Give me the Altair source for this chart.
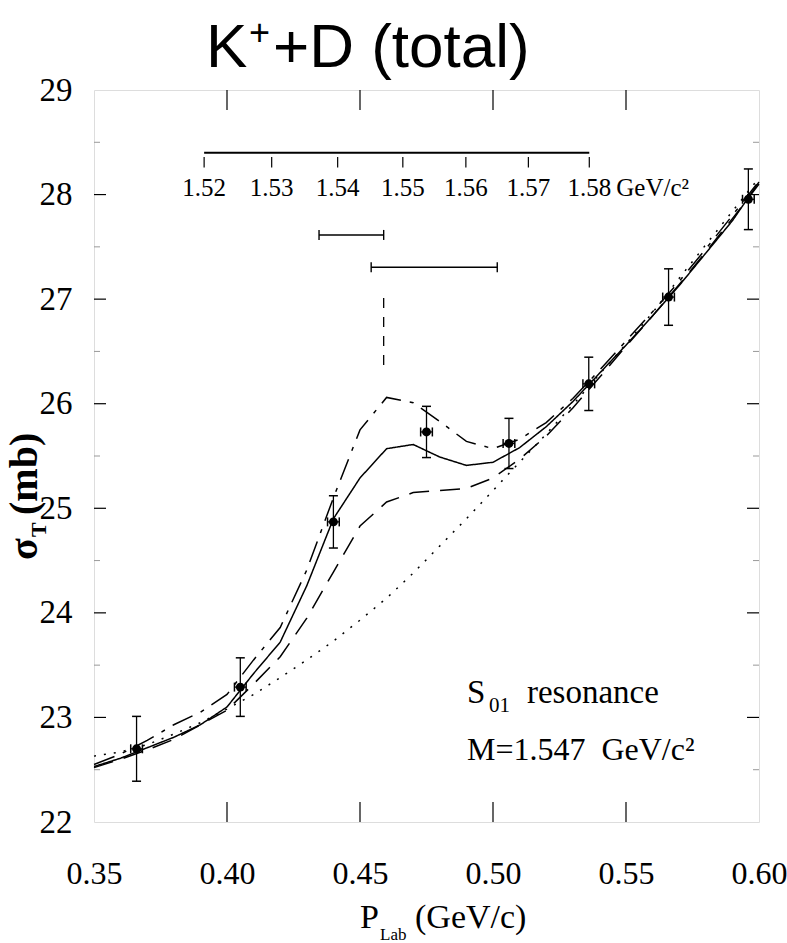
import altair as alt
import pandas as pd

W, H = 665, 732
SERIF = "Liberation Serif"
SANS = "Liberation Sans"

# ---------------- data ----------------
p_grid = [0.35, 0.36, 0.37, 0.38, 0.39, 0.40, 0.41, 0.42, 0.43, 0.44, 0.45, 0.46, 0.47,
          0.48, 0.49, 0.50, 0.51, 0.52, 0.53, 0.54, 0.55, 0.56, 0.57, 0.58, 0.59, 0.60]
sig_solid = [22.53, 22.61, 22.71, 22.81, 22.93, 23.10, 23.42, 23.72, 24.26, 24.90, 25.29, 25.57, 25.61,
             25.49, 25.41, 25.44, 25.58, 25.78, 26.02, 26.29, 26.56, 26.84, 27.13, 27.44, 27.75, 28.12]
sig_dashed = [22.52, 22.60, 22.69, 22.79, 22.93, 23.07, 23.32, 23.58, 23.95, 24.39, 24.83, 25.06, 25.15,
              25.17, 25.19, 25.29, 25.47, 25.69, 25.96, 26.25, 26.55, 26.84, 27.14, 27.45, 27.77, 28.10]
sig_dashdot = [22.55, 22.65, 22.78, 22.93, 23.05, 23.22, 23.55, 23.86, 24.41, 25.10, 25.75, 26.06, 26.01,
               25.83, 25.64, 25.57, 25.66, 25.82, 26.05, 26.32, 26.60, 26.88, 27.17, 27.48, 27.80, 28.13]
sig_dotted = [22.63, 22.67, 22.74, 22.84, 22.95, 23.08, 23.22, 23.38, 23.55, 23.73, 23.93, 24.14, 24.38,
              24.64, 24.90, 25.17, 25.44, 25.71, 25.99, 26.28, 26.57, 26.87, 27.20, 27.52, 27.84, 28.16]

data_p = [0.366, 0.405, 0.440, 0.475, 0.506, 0.536, 0.566, 0.596]
data_sigma = [22.70, 23.29, 24.87, 25.73, 25.62, 26.19, 27.02, 27.955]
data_err = [0.31, 0.28, 0.25, 0.245, 0.24, 0.255, 0.27, 0.29]
data_perr = [0.0022, 0.0022, 0.0022, 0.0022, 0.0022, 0.0022, 0.0022, 0.0022]

# invariant-mass scale (GeV/c^2) and the P_lab position of each of its ticks
mass_ticks = ["1.52", "1.53", "1.54", "1.55", "1.56", "1.57", "1.58"]
mass_tick_p = [0.3914, 0.4168, 0.4416, 0.4661, 0.4898, 0.5133, 0.5362]
mass_line_y = 28.40
mass_tick_y = [28.36, 28.26]
mass_label_y = 28.06

# mass-range bars (in P_lab) and their heights
range_p1 = [0.4346, 0.4542]
range_p2 = [0.4589, 0.5016]
range_y = [27.614, 27.305]

# resonance position marker
res_p = [0.4589]
res_y1 = [26.37]
res_y2 = [27.06]

x_ticks = [0.35, 0.40, 0.45, 0.50, 0.55, 0.60]
y_ticks = [22, 23, 24, 25, 26, 27, 28, 29]
y_minor = [22.5, 23.5, 24.5, 25.5, 26.5, 27.5, 28.5]

ann_p = 0.4902
ann_y1 = 23.14
ann_y2 = 22.595

# ---------------- tables ----------------
curve_names = ["solid", "dashed", "dashdot", "dotted"]
curves = pd.DataFrame({
    "p": p_grid * 4,
    "sigma": sig_solid + sig_dashed + sig_dashdot + sig_dotted,
    "curve": sum([[c] * len(p_grid) for c in curve_names], []),
})
pts = pd.DataFrame({
    "p": data_p,
    "s": data_sigma,
    "s_lo": [s - e for s, e in zip(data_sigma, data_err)],
    "s_hi": [s + e for s, e in zip(data_sigma, data_err)],
    "p_lo": [p - e for p, e in zip(data_p, data_perr)],
    "p_hi": [p + e for p, e in zip(data_p, data_perr)],
})
mass = pd.DataFrame({"p": mass_tick_p, "lab": mass_ticks,
                     "y1": [mass_tick_y[0]] * 7, "y2": [mass_tick_y[1]] * 7,
                     "ly": [mass_label_y] * 7})
mass_line = pd.DataFrame({"p1": [mass_tick_p[0]], "p2": [mass_tick_p[-1]], "y": [mass_line_y]})
ranges = pd.DataFrame({"p1": range_p1, "p2": range_p2, "y": range_y})
res = pd.DataFrame({"p": res_p, "y1": res_y1, "y2": res_y2})

xscale = alt.Scale(domain=[0.35, 0.60], nice=False, zero=False)
yscale = alt.Scale(domain=[22, 29], nice=False, zero=False)
xaxis = alt.Axis(values=x_ticks, format=".2f", labelFont=SERIF, labelFontSize=32,
                 labelColor="black", ticks=False, domain=False, grid=False,
                 labelPadding=36, title=None, labelFlush=False)
yaxis = alt.Axis(values=y_ticks, format="d", labelFont=SERIF, labelFontSize=33,
                 labelColor="black", ticks=False, domain=False, grid=False,
                 labelPadding=22, title=None, labelFlush=False)


def X(f):
    return alt.X(f, type="quantitative", scale=xscale, axis=xaxis)


def Y(f):
    return alt.Y(f, type="quantitative", scale=yscale, axis=yaxis)


layers = []
dash = {"solid": [1, 0], "dashed": [20, 11], "dashdot": [22, 9, 4, 9], "dotted": [2, 8]}
for c in curve_names:
    layers.append(
        alt.Chart(curves).transform_filter(alt.datum.curve == c)
        .mark_line(color="black", strokeWidth=1.5, strokeDash=dash[c])
        .encode(x=X("p"), y=Y("sigma"))
    )

# error bars
layers.append(alt.Chart(pts).mark_rule(color="black", strokeWidth=1.3)
              .encode(x=X("p"), y=Y("s_lo"), y2="s_hi"))
for f in ["s_lo", "s_hi"]:
    layers.append(alt.Chart(pts).mark_tick(orient="horizontal", color="black", size=9,
                                           thickness=1.5, opacity=1)
                  .encode(x=X("p"), y=Y(f)))
layers.append(alt.Chart(pts).mark_rule(color="black", strokeWidth=1.3)
              .encode(x=X("p_lo"), x2="p_hi", y=Y("s")))
for f in ["p_lo", "p_hi"]:
    layers.append(alt.Chart(pts).mark_tick(orient="vertical", color="black", size=9,
                                           thickness=1.5, opacity=1)
                  .encode(x=X(f), y=Y("s")))
layers.append(alt.Chart(pts).mark_point(filled=True, shape="circle", size=80, color="black",
                                        opacity=1)
              .encode(x=X("p"), y=Y("s")))

# mass scale
layers.append(alt.Chart(mass_line).mark_rule(color="black", strokeWidth=2)
              .encode(x=X("p1"), x2="p2", y=Y("y")))
layers.append(alt.Chart(mass).mark_rule(color="black", strokeWidth=1.2)
              .encode(x=X("p"), y=Y("y1"), y2="y2"))
layers.append(alt.Chart(mass).mark_text(font=SERIF, fontSize=25, color="black", baseline="middle")
              .encode(x=X("p"), y=Y("ly"), text="lab:N"))
layers.append(alt.Chart(mass.tail(1)).mark_text(font=SERIF, fontSize=25, color="black",
                                                baseline="middle", align="left", dx=27)
              .encode(x=X("p"), y=Y("ly"), text=alt.value("GeV/c²")))

# mass-range bars
layers.append(alt.Chart(ranges).mark_rule(color="black", strokeWidth=1.6)
              .encode(x=X("p1"), x2="p2", y=Y("y")))
for f in ["p1", "p2"]:
    layers.append(alt.Chart(ranges).mark_tick(orient="vertical", color="black", size=10,
                                              thickness=1.4, opacity=1)
                  .encode(x=X(f), y=Y("y")))
layers.append(alt.Chart(res).mark_rule(color="black", strokeWidth=1.3, strokeDash=[10, 9])
              .encode(x=X("p"), y=Y("y1"), y2="y2"))

# inward axis ticks
xt = pd.DataFrame({"t": x_ticks[1:-1]})
yt = pd.DataFrame({"t": y_ticks[1:-1]})
ym = pd.DataFrame({"t": y_minor})
layers.append(alt.Chart(xt).mark_rule(color="black", strokeWidth=1.2)
              .encode(x=X("t"), y=alt.value(H), y2=alt.value(H - 20)))
layers.append(alt.Chart(xt).mark_rule(color="black", strokeWidth=1.2)
              .encode(x=X("t"), y=alt.value(0), y2=alt.value(20)))
layers.append(alt.Chart(yt).mark_rule(color="black", strokeWidth=1.2)
              .encode(y=Y("t"), x=alt.value(0), x2=alt.value(12)))
layers.append(alt.Chart(yt).mark_rule(color="black", strokeWidth=1.2)
              .encode(y=Y("t"), x=alt.value(W), x2=alt.value(W - 12)))
layers.append(alt.Chart(ym).mark_rule(color="#999999", strokeWidth=1)
              .encode(y=Y("t"), x=alt.value(0), x2=alt.value(6)))
layers.append(alt.Chart(ym).mark_rule(color="#999999", strokeWidth=1)
              .encode(y=Y("t"), x=alt.value(W), x2=alt.value(W - 6)))

# annotation text
ann = pd.DataFrame({"p": [ann_p], "y1": [ann_y1], "y2": [ann_y2]})
layers.append(alt.Chart(ann).mark_text(font=SERIF, fontSize=33, color="black", align="left",
                                       baseline="alphabetic")
              .encode(x=X("p"), y=Y("y1"), text=alt.value("S")))
layers.append(alt.Chart(ann).mark_text(font=SERIF, fontSize=21, color="black", align="left",
                                       baseline="alphabetic", dx=22, dy=9)
              .encode(x=X("p"), y=Y("y1"), text=alt.value("01")))
layers.append(alt.Chart(ann).mark_text(font=SERIF, fontSize=33, color="black", align="left",
                                       baseline="alphabetic", dx=60)
              .encode(x=X("p"), y=Y("y1"), text=alt.value("resonance")))
layers.append(alt.Chart(ann).mark_text(font=SERIF, fontSize=32, color="black", align="left",
                                       baseline="alphabetic")
              .encode(x=X("p"), y=Y("y2"), text=alt.value("M=1.547\u00a0 GeV/c²")))

# titles drawn as text (with sub/superscripts)
one = pd.DataFrame({"k": [0]})


def txt(s, x, y, size, dx=0, dy=0, font=SERIF, weight="normal", angle=0):
    return (alt.Chart(one)
            .mark_text(font=font, fontSize=size, fontWeight=weight, color="black",
                       align="left", baseline="alphabetic", dx=dx, dy=dy, angle=angle)
            .encode(x=alt.value(x), y=alt.value(y), text=alt.value(s)))


# chart title  K^+ + D (total)
layers.append(txt("K", 112, -23, 62, font=SANS))
layers.append(txt("+", 112, -23, 36, dx=43, dy=-22, font=SANS))
layers.append(txt("+D (total)", 112, -23, 62, dx=67, font=SANS))

# x title  P_Lab (GeV/c)
layers.append(txt("P", 266, 838, 34))
layers.append(txt("Lab", 266, 838, 17, dx=20, dy=12))
layers.append(txt("(GeV/c)", 266, 838, 34, dx=55))

# y title  sigma_T (mb)
layers.append(txt("σ", -57, 470, 40, weight="bold", angle=270))
layers.append(txt("T", -57, 470, 22, dx=23, dy=9, weight="bold", angle=270))
layers.append(txt("(mb)", -57, 470, 40, dx=45, weight="bold", angle=270))

chart = alt.layer(*layers).properties(
    width=W, height=H,
    padding={"left": 94, "top": 90, "right": 28, "bottom": 121},
    autosize=alt.AutoSizeParams(type="none"),
).configure_view(stroke="black", strokeWidth=1.6).configure(background="white")

chart.save("out.html", embed_options={"renderer": "svg", "actions": False})
